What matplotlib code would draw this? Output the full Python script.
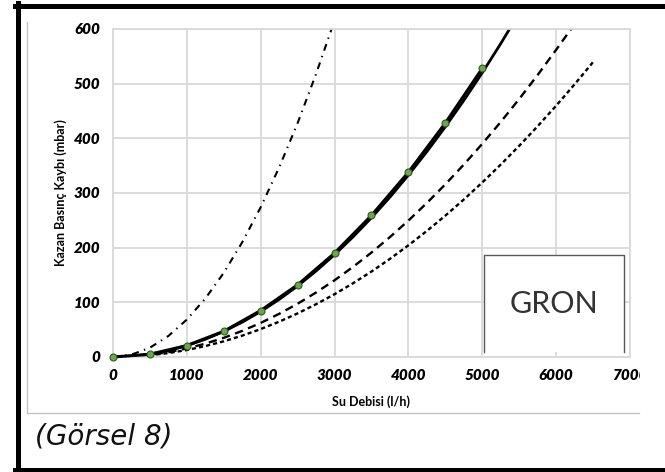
import numpy as np
import matplotlib
matplotlib.use("Agg")
import matplotlib.pyplot as plt
from matplotlib.patches import Rectangle
from matplotlib.lines import Line2D

plt.rcParams['lines.scale_dashes'] = False

#-------------------data------------------------------------------#
# measured points (green markers)
debi_olcum = [0, 500, 1000, 1500, 2000, 2500, 3000, 3500, 4000, 4500, 5000]
kayip_olcum = [0, 5, 21, 47, 85, 132, 190, 259, 338, 428, 528]

# trend through the measured points
debi_trend = [0, 250, 500, 750, 1000, 1250, 1500, 1750, 2000, 2250, 2500, 2750,
              3000, 3250, 3500, 3750, 4000, 4250, 4500, 4750, 5000, 5250, 5500]
kayip_trend = [0, 1.3, 5.2, 11.7, 20.8, 32.5, 46.8, 63.7, 83.2, 105.3, 130,
               157.3, 187.2, 219.7, 254.8, 292.5, 332.8, 375.7, 421.2, 469.3,
               520, 573.3, 629.2]

# dash-dot curve
debi_dd = [0, 250, 500, 750, 1000, 1250, 1500, 1750, 2000, 2250, 2500, 2750, 3000]
kayip_dd = [0, 4.3, 17, 38.5, 68.5, 107, 154, 210, 274, 347, 428, 518, 616]

# long dashed curve
debi_ld = [0, 250, 500, 750, 1000, 1250, 1500, 1750, 2000, 2250, 2500, 2750,
           3000, 3250, 3500, 3750, 4000, 4250, 4500, 4750, 5000, 5250, 5500,
           5750, 6000, 6250]
kayip_ld = [0, 1, 3.9, 8.8, 15.6, 24.4, 35.1, 47.8, 62.4, 79, 97.5, 118,
            140.4, 164.8, 191.1, 219.4, 249.6, 281.8, 315.9, 352, 390, 430,
            472, 516, 562, 609]

# short dashed curve
debi_sd = [0, 250, 500, 750, 1000, 1250, 1500, 1750, 2000, 2250, 2500, 2750,
           3000, 3250, 3500, 3750, 4000, 4250, 4500, 4750, 5000, 5250, 5500,
           5750, 6000, 6250, 6500]
kayip_sd = [0, 0.8, 3.2, 7.2, 12.8, 20, 28.7, 39.1, 51.1, 64.6, 79.8, 96.6,
            114.9, 134.9, 156.4, 179.6, 204.3, 230.7, 258.6, 288.1, 319.3, 352,
            386.3, 422.2, 459.7, 498.8, 539.5]

x_ticks = [0, 1000, 2000, 3000, 4000, 5000, 6000, 7000]
y_ticks = [0, 100, 200, 300, 400, 500, 600]

W, H = 665, 472
def fx(px):
    return px / W
def fy(py):
    return 1 - py / H

#-------------------figure----------------------#
fig = plt.figure(figsize=(6.65, 4.72), dpi=100)
ax = fig.add_axes([fx(113), fy(357), fx(630) - fx(113), fy(29) - fy(357)])

grid_col = '#d9d9d9'
ax.plot(debi_dd, kayip_dd, color='black', lw=1.5, ls=(0, (5, 4, 1, 4)))
ax.plot(debi_sd, kayip_sd, color='black', lw=1.7, ls=(0, (3, 2.2)))
ax.plot(debi_ld, kayip_ld, color='black', lw=1.7, ls=(0, (6, 4)))
ax.plot(debi_trend, kayip_trend, color='black', lw=2.0)
ax.plot(debi_olcum, kayip_olcum, color='black', lw=2.2, marker='o', ms=5,
        mfc='#6aa84f', mec='#2f5a1e', mew=0.8, clip_on=False, zorder=4)

ax.set_xlim(0, 7000)
ax.set_ylim(0, 600)
ax.set_xticks(x_ticks)
ax.set_yticks(y_ticks)
ax.grid(True, color=grid_col, lw=1.3)
ax.set_axisbelow(True)
for s in ax.spines.values():
    s.set_color(grid_col)
    s.set_linewidth(1.3)
ax.tick_params(length=0, pad=9)
for lab in ax.get_xticklabels() + ax.get_yticklabels():
    lab.set_fontfamily('Lato')
    lab.set_fontweight('heavy')
    lab.set_fontstyle('italic')
    lab.set_fontsize(11)
    lab.set_color('black')

fig.text(fx(61), fy(193), 'Kazan Basınç Kaybı (mbar)', rotation=90,
         ha='center', va='center', fontsize=9, fontweight='bold', family='Lato')
fig.text(fx(371), fy(402), 'Su Debisi (l/h)', ha='center', va='center',
         fontsize=9, fontweight='bold', family='Lato')

# clip the last tick label like the original picture
fig.patches.append(Rectangle((fx(640), fy(395)), fx(665) - fx(640), fy(362) - fy(395),
                             transform=fig.transFigure, fc='white', ec='none', zorder=5))

# GRON box (open at the bottom)
fig.patches.append(Rectangle((fx(484), fy(352)), fx(624) - fx(484), fy(255) - fy(352),
                             transform=fig.transFigure, fc='white', ec='none', zorder=5))
box_x = [fx(484), fx(484), fx(624), fx(624)]
box_y = [fy(352), fy(255), fy(255), fy(352)]
fig.lines.append(Line2D(box_x, box_y, transform=fig.transFigure, color='#595959',
                        lw=1.0, zorder=6))
fig.text(fx(554), fy(304), 'GRON', ha='center', va='center', fontsize=22,
         family='Lato', color='#333333', zorder=7)

# inner chart frame (gray)
fig.lines.append(Line2D([fx(27), fx(27), fx(639)], [fy(22), fy(413), fy(413)],
                        transform=fig.transFigure, color='#bfbfbf', lw=0.9, zorder=6))

# outer black frame
fig.lines.append(Line2D([fx(17.5), fx(17.5)], [fy(3), fy(472)],
                        transform=fig.transFigure, color='black', lw=3.6, zorder=8))
fig.lines.append(Line2D([fx(15), fx(665)], [fy(6), fy(6)],
                        transform=fig.transFigure, color='black', lw=3.6, zorder=8))
fig.lines.append(Line2D([fx(15), fx(665)], [fy(469.5), fy(469.5)],
                        transform=fig.transFigure, color='black', lw=3.6, zorder=8))

fig.text(fx(35), fy(436), '(Görsel 8)', ha='left', va='center', fontsize=20,
         family='DejaVu Sans', style='italic', color='#111111')

fig.savefig('out.png', dpi=100)
